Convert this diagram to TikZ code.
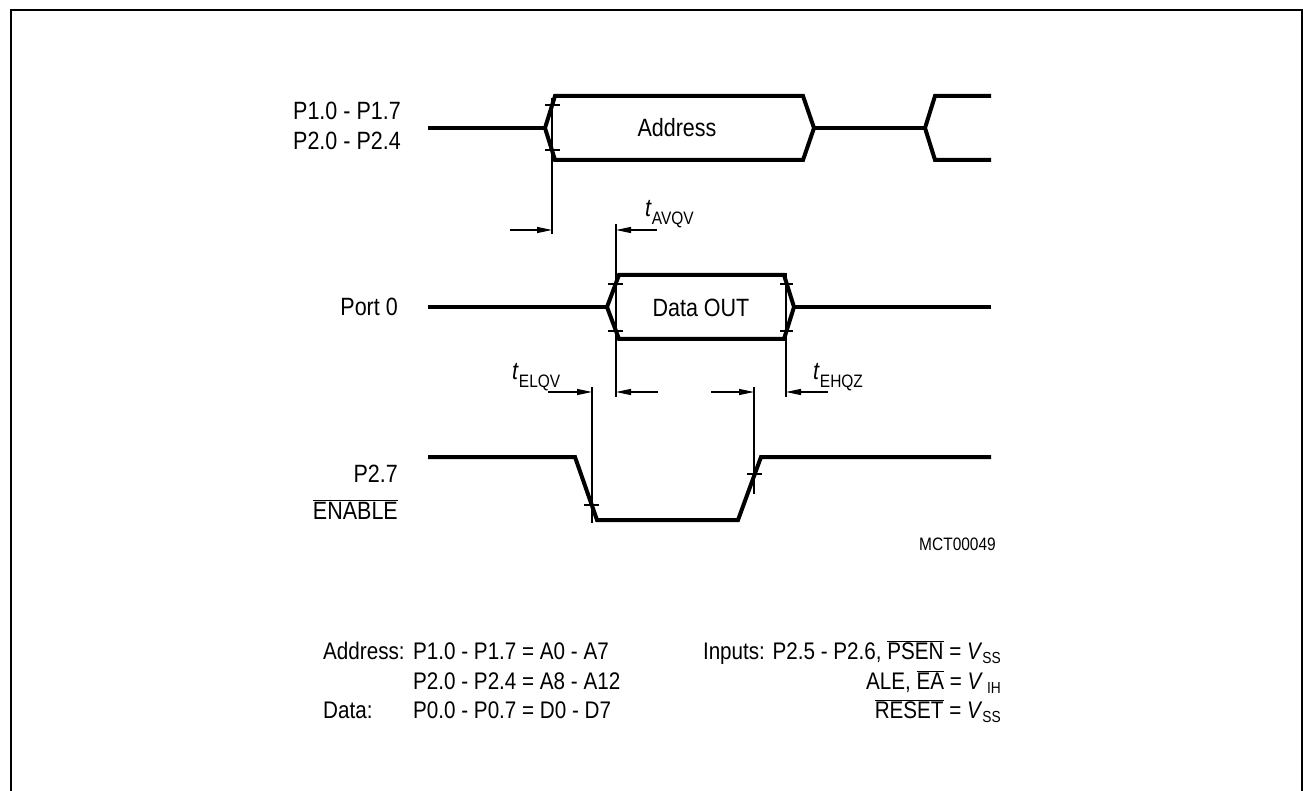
\documentclass[tikz,border=0pt]{standalone}
\usepackage{fontspec}
\setmainfont{Liberation Sans}[FakeStretch=0.86]
\usetikzlibrary{arrows.meta}
\newcommand\tsub[1]{\raisebox{-8pt}{\fontsize{18}{18}\selectfont #1}}
\newcommand\rsub[1]{\raisebox{-4pt}{\fontsize{16}{16}\selectfont #1}}
\newcommand\ovl[1]{$\overline{\hbox{#1}}$}
\begin{document}
\begin{tikzpicture}[x=1pt,y=-1pt,
  sig/.style={line width=4pt},
  thin/.style={line width=1.1pt},
  dim/.style={line width=1.1pt,-{Triangle[length=15pt,width=6pt]}},
  lbl/.style={font=\fontsize{25}{30}\selectfont, inner sep=0pt},
  tlbl/.style={font=\fontsize{25}{30}\selectfont, inner sep=0pt, anchor=base west},
  note/.style={font=\fontsize{24}{29}\selectfont, inner sep=0pt},
  small/.style={font=\fontsize{18}{22}\selectfont, inner sep=0pt}]
\useasboundingbox (0,0) rectangle (1303,791);
% frame
\draw[line width=2pt] (11,791) -- (11,10) -- (1302,10) -- (1302,791);

% ---- signal 1: address
\draw[sig] (428,128) -- (545,128);
\draw[sig] (545,128) -- (555,96) -- (803,96) -- (814,128) -- (803,160) -- (555,160) -- cycle;
\draw[sig] (814,128) -- (925,128);
\draw[sig] (991,96) -- (935,96) -- (925,128) -- (935,160) -- (991,160);
\draw[thin] (545,105) -- (560,105);
\draw[thin] (545,150) -- (560,150);
\node[lbl, anchor=base] (addr) at (677,137) {Address};

% ---- signal 2: port 0
\draw[sig] (428,307) -- (607,307);
\draw[sig] (607,307) -- (619,275) -- (784,275) -- (794,307) -- (784,339) -- (619,339) -- cycle;
\draw[sig] (794,307) -- (991,307);
\draw[thin] (608,284) -- (623,284);
\draw[thin] (608,331) -- (623,331);
\draw[thin] (780,284) -- (793,284);
\draw[thin] (780,331) -- (793,331);
\node[lbl, anchor=base] (dout) at (701,317) {Data OUT};

% ---- signal 3: P2.7 enable
\draw[sig] (428,457) -- (575,457) -- (597,520) -- (738,520) -- (761,457) -- (991,457);
\draw[thin] (584,505) -- (599,505);
\draw[thin] (747,474) -- (762,474);

% ---- reference lines
\coordinate (v1a) at (552,98);  \coordinate (v1b) at (552,234);
\coordinate (v2a) at (616,224); \coordinate (v2b) at (616,397);
\coordinate (v3a) at (786,273); \coordinate (v3b) at (786,397);
\coordinate (v4a) at (592,387); \coordinate (v4b) at (592,523);
\coordinate (v5a) at (754,387); \coordinate (v5b) at (754,494);
\draw[thin] (v1a) -- (v1b);
\draw[thin] (v2a) -- (v2b);
\draw[thin] (v3a) -- (v3b);
\draw[thin] (v4a) -- (v4b);
\draw[thin] (v5a) -- (v5b);

% ---- dimension arrows
\coordinate (a1s) at (510,230); \coordinate (a1e) at (552,230);
\coordinate (a2s) at (657,230); \coordinate (a2e) at (616,230);
\coordinate (a3s) at (548,392); \coordinate (a3e) at (592,392);
\coordinate (a4s) at (658,392); \coordinate (a4e) at (616,392);
\coordinate (a5s) at (711,392); \coordinate (a5e) at (754,392);
\coordinate (a6s) at (828,392); \coordinate (a6e) at (786,392);
\draw[dim] (a1s) -- (a1e);
\draw[dim] (a2s) -- (a2e);
\draw[dim] (a3s) -- (a3e);
\draw[dim] (a4s) -- (a4e);
\draw[dim] (a5s) -- (a5e);
\draw[dim] (a6s) -- (a6e);

\node[tlbl] (tavqv) at (645,217) {\textit{t}\tsub{AVQV}};
\node[tlbl] (telqv) at (512,379) {\textit{t}\tsub{ELQV}};
\node[tlbl] (tehqz) at (813,379) {\textit{t}\tsub{EHQZ}};

% ---- left labels
\node[lbl, anchor=base west] (p1) at (293,120) {P1.0 - P1.7};
\node[lbl, anchor=base west] (p2) at (293,150) {P2.0 - P2.4};
\node[lbl, anchor=base east] (port) at (398,316) {Port 0};
\node[lbl, anchor=base east] (p27) at (398,482) {P2.7};
\node[lbl, anchor=base east] (en) at (398,519) {\ovl{ENABLE}};

\node[small, anchor=base east] (mct) at (996,550) {MCT00049};

% ---- notes
\node[note, anchor=base west] (n1) at (323,659) {Address:};
\node[note, anchor=base west] (n2) at (413,659) {P1.0 - P1.7 = A0 - A7};
\node[note, anchor=base west] (n3) at (413,689) {P2.0 - P2.4 = A8 - A12};
\node[note, anchor=base west] (n4) at (323,718) {Data:};
\node[note, anchor=base west] (n5) at (413,718) {P0.0 - P0.7 = D0 - D7};
\node[note, anchor=base east] (r1) at (1001,659) {Inputs: P2.5 - P2.6, \ovl{PSEN} = \textit{V}\rsub{SS}};
\node[note, anchor=base east] (r2) at (1001,689) {ALE, \ovl{EA} = \textit{V}\,\rsub{IH}};
\node[note, anchor=base east] (r3) at (1001,718) {\ovl{RESET} = \textit{V}\rsub{SS}};
\end{tikzpicture}
\end{document}
